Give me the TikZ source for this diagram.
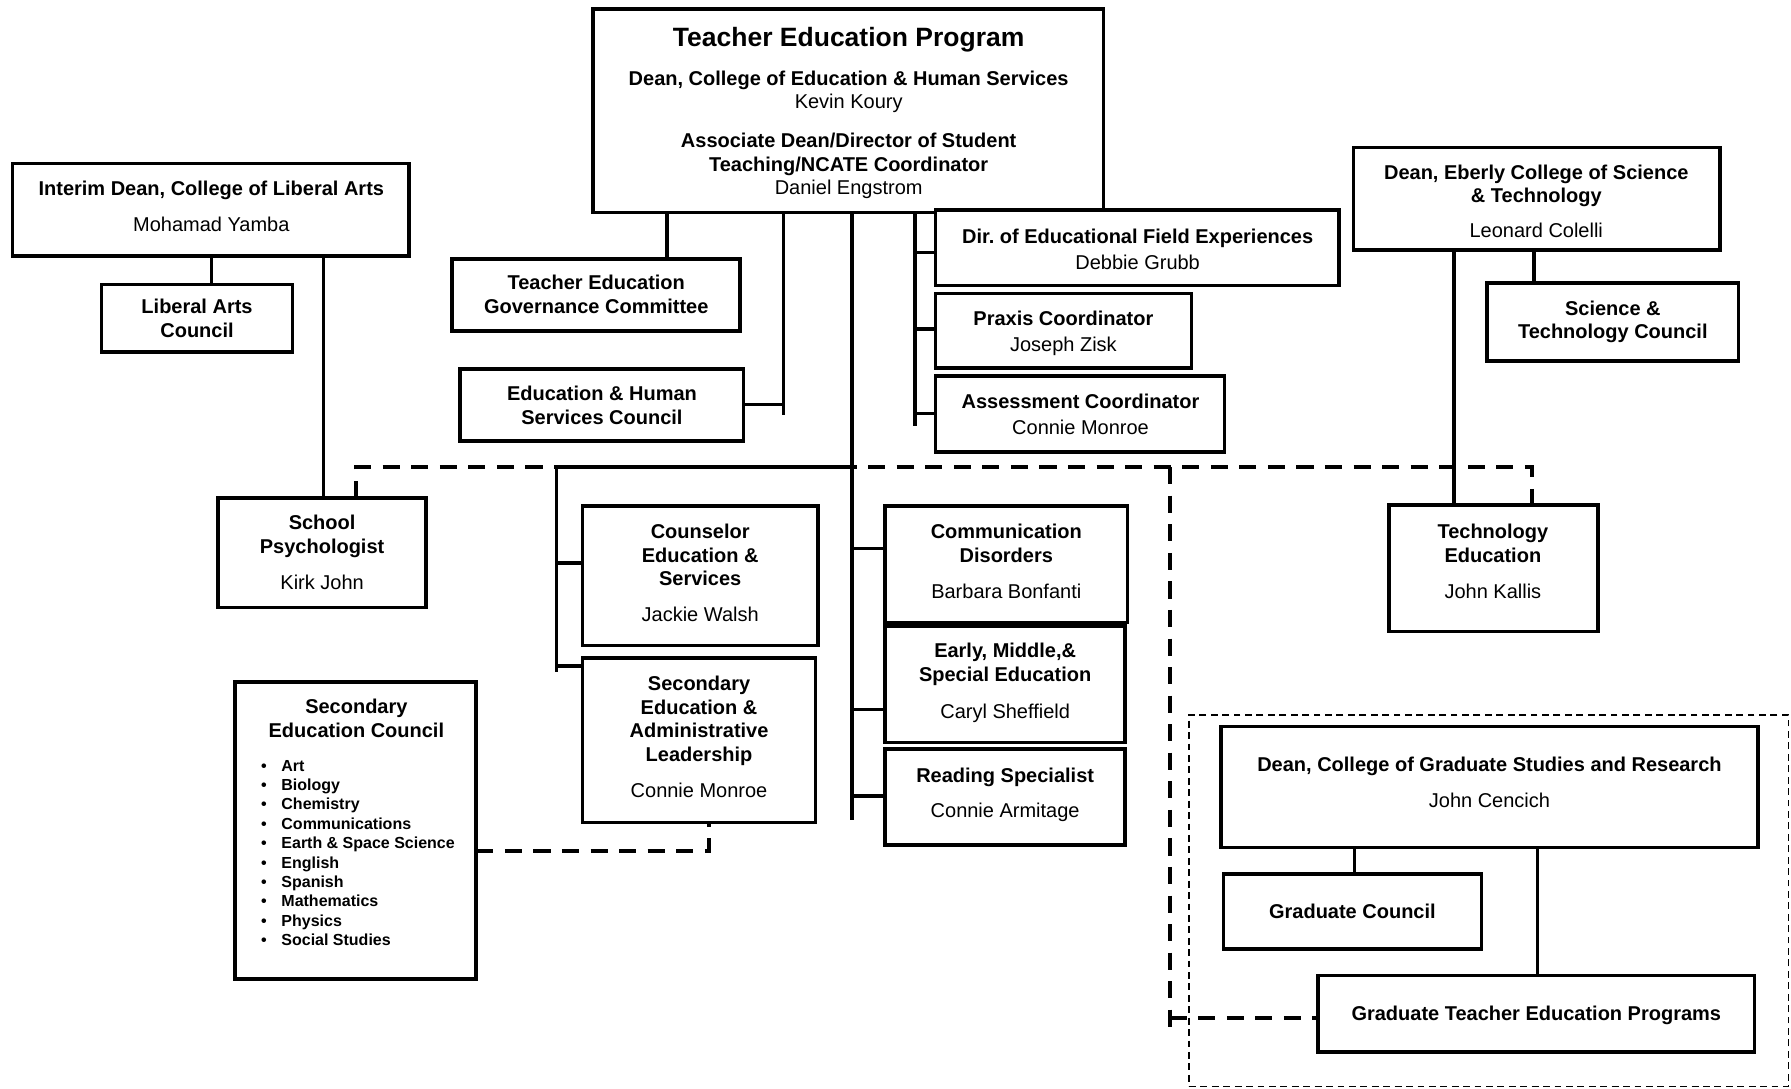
\documentclass[tikz,border=0pt]{standalone}
\usepackage{fontspec}
\setmainfont{Liberation Sans}
\usetikzlibrary{fit}
\frenchspacing
\begin{document}
\begin{tikzpicture}[x=0.5pt,y=-0.5pt,
  box/.style={draw, line width=1.6pt, fill=white, inner sep=0pt, outer sep=0pt},
  txt/.style={font=\fontsize{8.75}{10.25}\selectfont, align=center, inner sep=0pt, anchor=north},
  bul/.style={font=\fontsize{7}{8.5}\selectfont\bfseries, inner sep=0pt},
  ln/.style={line width=1.5pt},
  dl/.style={line width=1.7pt, dash pattern=on 7.5pt off 5pt},
  gdash/.style={draw, line width=0.6pt, dash pattern=on 3pt off 2pt, inner sep=0pt}
]
\useasboundingbox (0,0) rectangle (1568,953);
\fill[white] (0,0) rectangle (1568,953);

% graduate enclosure
\node[gdash, fit={(1041,626)(1566,951)}] (gradgroup) {};

% boxes
\node[box, fit={(519,8)(966,186)}] (top) {};
\node[box, fit={(819,184)(1172,250)}] (dir) {};
\node[box, fit={(819,257)(1043,322)}] (praxis) {};
\node[box, fit={(819,329)(1072,396)}] (assess) {};
\node[box, fit={(11,143)(358,224)}] (interim) {};
\node[box, fit={(89,249)(256,308)}] (lac) {};
\node[box, fit={(191,436)(373,532)}] (sp) {};
\node[box, fit={(396,227)(648,290)}] (tegc) {};
\node[box, fit={(403,323)(651,386)}] (ehsc) {};
\node[box, fit={(1185,129)(1506,219)}] (eberly) {};
\node[box, fit={(1302,248)(1522,316)}] (stc) {};
\node[box, fit={(510,443)(716,565)}] (ces) {};
\node[box, fit={(510,576)(714,720)}] (seal) {};
\node[box, fit={(206,597)(417,857)}] (sec) {};
\node[box, fit={(775,443)(987,545)}] (cd) {};
\node[box, fit={(775,548)(985,650)}] (ems) {};
\node[box, fit={(775,656)(985,740)}] (rs) {};
\node[box, fit={(1216,442)(1399,553)}] (teched) {};
\node[box, fit={(1069,636)(1539,742)}] (deangrad) {};
\node[box, fit={(1071,765)(1297,831)}] (gc) {};
\node[box, fit={(1154,854)(1536,921)}] (gtep) {};

% texts
\node[txt, font=\fontsize{11.6}{13}\selectfont\bfseries] (t0) at (743,23.7) {Teacher Education Program};
\node[txt] (t1) at (743,61.7) {\textbf{Dean, College of Education \& Human Services}\\ Kevin Koury\\[6.75pt] \textbf{Associate Dean/Director of Student}\\ \textbf{Teaching/NCATE Coordinator}\\ Daniel Engstrom};
\node[txt] (t2) at (185,157.7) {\textbf{Interim Dean, College of Liberal Arts}\\[5.75pt] Mohamad Yamba};
\node[txt] (t3) at (172.5,261.7) {\textbf{Liberal Arts}\\ \textbf{Council}};
\node[txt] (t4) at (282,450.7) {\textbf{School}\\ \textbf{Psychologist}\\[5.75pt] Kirk John};
\node[txt] (t5) at (522,240.7) {\textbf{Teacher Education}\\ \textbf{Governance Committee}};
\node[txt] (t6) at (527,337.7) {\textbf{Education \& Human}\\ \textbf{Services Council}};
\node[txt] (t7) at (996,199.7) {\textbf{Dir.\ of Educational Field Experiences}\\[1.25pt] Debbie Grubb};
\node[txt] (t8) at (931,271.7) {\textbf{Praxis Coordinator}\\[1.25pt] Joseph Zisk};
\node[txt] (t9) at (946,344.7) {\textbf{Assessment Coordinator}\\[1.25pt] Connie Monroe};
\node[txt] (t10) at (1345,143.7) {\textbf{Dean, Eberly College of Science}\\ \textbf{\& Technology}\\[5.25pt] Leonard Colelli};
\node[txt] (t11) at (1412,262.7) {\textbf{Science \&}\\ \textbf{Technology Council}};
\node[txt] (t12) at (613,458.7) {\textbf{Counselor}\\ \textbf{Education \&}\\ \textbf{Services}\\[5.25pt] Jackie Walsh};
\node[txt] (t13) at (612,591.7) {\textbf{Secondary}\\ \textbf{Education \&}\\ \textbf{Administrative}\\ \textbf{Leadership}\\[5.75pt] Connie Monroe};
\node[txt] (t14) at (312,611.7) {\textbf{Secondary}\\ \textbf{Education Council}};
\node[txt] (t15) at (881,458.7) {\textbf{Communication}\\ \textbf{Disorders}\\[5.75pt] Barbara Bonfanti};
\node[txt] (t16) at (880,562.7) {\textbf{Early, Middle,\&}\\ \textbf{Special Education}\\[6pt] Caryl Sheffield};
\node[txt] (t17) at (880,671.7) {\textbf{Reading Specialist}\\[5.25pt] Connie Armitage};
\node[txt] (t18) at (1307,458.7) {\textbf{Technology}\\ \textbf{Education}\\[5.75pt] John Kallis};
\node[txt] (t19) at (1304,662.7) {\textbf{Dean, College of Graduate Studies and Research}\\[5.25pt] John Cencich};
\node[txt] (t20) at (1184,790.7) {\textbf{Graduate Council}};
\node[txt] (t21) at (1345,880.7) {\textbf{Graduate Teacher Education Programs}};

\foreach \t [count=\i from 0] in {Art,Biology,Chemistry,Communications,Earth \& Space Science,English,Spanish,Mathematics,Physics,Social Studies} {
  \node[bul, anchor=base west] (it\i) at (246,675+17*\i) {\t};
  \node[bul, anchor=base] (bu\i) at (231,675+17*\i) {\textbullet};
}

% dashed connectors
\coordinate (d312) at (312,409);
\coordinate (d1341) at (1341,409);
\draw[dl] (d312 |- sp.north) -- (d312) -- (d1341) -- (d1341 |- teched.north);
\coordinate (v1024) at (1024,409);
\coordinate (v903) at (1024,903);
\coordinate (h891) at (1024,891);
\draw[dl] (v1024) -- (v903);
\draw[dl] (h891) -- (h891 -| gtep.west);
\coordinate (d621) at (621,745);
\draw[dl] (d621 -| sec.east) -- (d621) -- (d621 |- seal.south);

% solid connectors
\coordinate (c584) at (584,0);
\draw[ln] (c584 |- top.south) -- (c584 |- tegc.north);
\coordinate (j686) at (686,363);
\coordinate (h354) at (686,354);
\draw[ln] (j686 |- top.south) -- (j686);
\draw[ln] (h354 -| ehsc.east) -- (h354);

\coordinate (m718) at (746,718);
\draw[ln] (m718 |- top.south) -- (m718);
\coordinate (mh) at (746,409);
\coordinate (lh) at (487,409);
\coordinate (l588) at (487,588);
\draw[ln] (mh) -- (lh) -- (l588);
\coordinate (s493) at (487,493);
\coordinate (s583) at (487,583);
\draw[ln] (s493) -- (s493 -| ces.west);
\draw[ln] (s583) -- (s583 -| seal.west);
\coordinate (s480) at (746,480);
\coordinate (s621) at (746,621);
\coordinate (s697) at (746,697);
\draw[ln] (s480) -- (s480 -| cd.west);
\draw[ln] (s621) -- (s621 -| ems.west);
\draw[ln] (s697) -- (s697 -| rs.west);

\coordinate (r373) at (801,373);
\draw[ln] (r373 |- top.south) -- (r373);
\coordinate (r221) at (801,221);
\coordinate (r288) at (801,288);
\coordinate (r362) at (801,362);
\draw[ln] (r221) -- (r221 -| dir.west);
\draw[ln] (r288) -- (r288 -| praxis.west);
\draw[ln] (r362) -- (r362 -| assess.west);

\coordinate (c185) at (185,0);
\draw[ln] (c185 |- interim.south) -- (c185 |- lac.north);
\coordinate (c283) at (283,0);
\draw[ln] (c283 |- interim.south) -- (c283 |- sp.north);
\coordinate (c1343) at (1343,0);
\draw[ln] (c1343 |- eberly.south) -- (c1343 |- stc.north);
\coordinate (c1273) at (1273,0);
\draw[ln] (c1273 |- eberly.south) -- (c1273 |- teched.north);
\coordinate (c1186) at (1186,0);
\draw[ln] (c1186 |- deangrad.south) -- (c1186 |- gc.north);
\coordinate (c1346) at (1346,0);
\draw[ln] (c1346 |- deangrad.south) -- (c1346 |- gtep.north);
\end{tikzpicture}
\end{document}
